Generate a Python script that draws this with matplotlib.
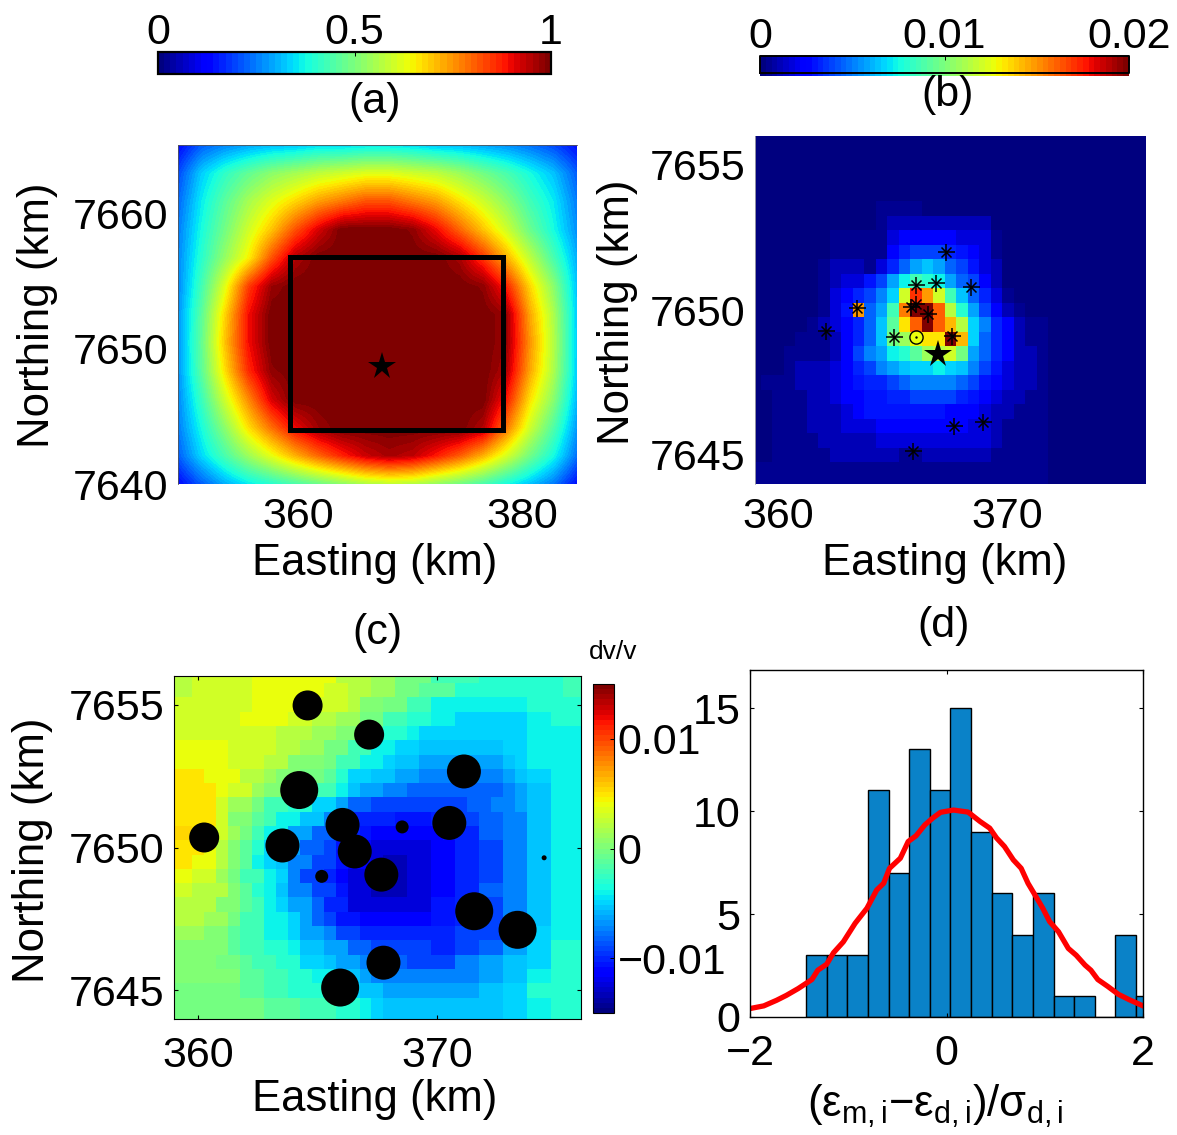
import matplotlib
matplotlib.use("Agg")
import matplotlib.pyplot as plt
import numpy as np

plt.rcParams["font.family"] = ["Liberation Sans", "DejaVu Sans"]
plt.rcParams["mathtext.fontset"] = "custom"
plt.rcParams["mathtext.rm"] = "Liberation Sans"
plt.rcParams["mathtext.it"] = "Liberation Sans"

W, H = 1177, 1135
FS = 31

# (a) probability, percent of colour range, samples every ~2 km from edge to edge, top row first
a_pct = [
    [13, 22, 26, 29, 31, 32, 34, 34, 35, 35, 34, 32, 31, 29, 27, 24, 20, 14],
    [20, 33, 41, 47, 52, 55, 58, 60, 62, 62, 60, 58, 54, 49, 44, 38, 32, 22],
    [23, 36, 46, 55, 62, 68, 74, 78, 82, 82, 78, 74, 67, 60, 52, 43, 36, 25],
    [25, 38, 49, 60, 70, 82, 92, 100, 100, 100, 98, 90, 80, 70, 60, 48, 38, 27],
    [26, 40, 53, 65, 82, 95, 100, 100, 100, 100, 100, 100, 96, 85, 72, 58, 44, 30],
    [26, 43, 62, 84, 97, 100, 100, 100, 100, 100, 100, 100, 100, 98, 87, 68, 52, 32],
    [27, 46, 68, 89, 100, 100, 100, 100, 100, 100, 100, 100, 100, 100, 97, 73, 56, 33],
    [27, 47, 70, 89, 100, 100, 100, 100, 100, 100, 100, 100, 100, 100, 97, 75, 57, 33],
    [27, 46, 67, 86, 98, 100, 100, 100, 100, 100, 100, 100, 100, 100, 95, 73, 56, 33],
    [26, 42, 60, 76, 92, 100, 100, 100, 100, 100, 100, 100, 100, 100, 88, 67, 52, 31],
    [25, 38, 52, 67, 79, 90, 97, 100, 100, 100, 100, 100, 100, 95, 78, 60, 45, 28],
    [22, 34, 44, 54, 63, 72, 80, 87, 93, 96, 94, 88, 81, 72, 61, 49, 38, 24],
    [13, 22, 30, 36, 40, 44, 48, 52, 56, 58, 57, 53, 49, 44, 38, 32, 25, 14],
]
a_rect_x = [359.3, 378.3, 378.3, 359.3, 359.3]
a_rect_y = [7644.0, 7644.0, 7656.8, 7656.8, 7644.0]
a_star = (367.5, 7648.7)

# (b) colour level 0..35 on a 0.5 km grid, top row first, rows padded with 0
b_levels = [
    [],
    [],
    [],
    [],
    [],
    [0, 0, 0, 0, 0, 0, 0, 0, 0, 0, 0, 1, 1, 1, 1],
    [0, 0, 0, 0, 0, 0, 0, 0, 0, 0, 0, 1, 2, 2, 2, 2, 2, 2, 2, 2, 2],
    [0, 0, 0, 0, 0, 0, 0, 1, 1, 1, 1, 1, 3, 4, 4, 4, 4, 4, 3, 3, 3, 1],
    [0, 0, 0, 0, 0, 0, 0, 1, 1, 1, 1, 1, 4, 6, 7, 7, 7, 6, 5, 4, 3, 1],
    [0, 0, 0, 0, 0, 0, 1, 2, 2, 2, 1, 3, 6, 8, 10, 11, 10, 8, 7, 5, 3, 2],
    [0, 0, 0, 0, 0, 0, 1, 2, 3, 3, 5, 7, 10, 13, 15, 14, 13, 10, 8, 7, 4, 2],
    [0, 0, 0, 0, 0, 0, 1, 3, 4, 6, 7, 9, 12, 21, 30, 26, 21, 15, 11, 8, 6, 3, 1],
    [0, 0, 0, 0, 0, 0, 1, 3, 5, 26, 8, 10, 15, 27, 35, 35, 28, 20, 14, 10, 7, 4, 2, 1],
    [0, 0, 0, 0, 0, 1, 2, 3, 4, 6, 8, 11, 16, 23, 28, 35, 28, 25, 20, 12, 9, 6, 4, 2, 1, 1],
    [0, 0, 0, 0, 1, 1, 1, 2, 4, 6, 8, 11, 17, 19, 22, 23, 23, 35, 25, 12, 8, 6, 4, 2, 1, 1],
    [0, 0, 0, 1, 1, 1, 1, 2, 4, 7, 9, 10, 13, 14, 16, 19, 20, 21, 17, 10, 8, 6, 4, 2, 2, 1],
    [0, 0, 0, 1, 2, 2, 2, 3, 4, 6, 7, 9, 10, 11, 12, 12, 13, 12, 11, 9, 7, 5, 3, 2, 2, 1],
    [0, 1, 1, 1, 2, 2, 2, 3, 4, 5, 6, 6, 7, 8, 9, 9, 9, 9, 8, 7, 5, 4, 3, 2, 2, 1],
    [0, 0, 1, 1, 1, 2, 2, 3, 4, 4, 5, 5, 6, 6, 7, 7, 7, 7, 6, 5, 4, 3, 2, 2, 1, 1],
    [0, 0, 1, 1, 1, 2, 2, 2, 3, 4, 5, 5, 5, 5, 5, 5, 5, 4, 4, 4, 3, 2, 2, 1, 1, 1],
    [0, 0, 1, 1, 1, 2, 2, 2, 3, 3, 3, 4, 4, 4, 4, 4, 4, 4, 4, 3, 3, 2, 1, 1, 1, 1],
    [0, 0, 1, 1, 1, 1, 2, 2, 2, 2, 2, 3, 3, 3, 3, 3, 3, 3, 3, 3, 3, 2, 1, 1, 1, 1],
    [0, 0, 1, 1, 1, 1, 1, 2, 2, 2, 2, 2, 2, 1, 1, 2, 2, 2, 2, 2, 2, 1, 1, 1, 1, 1],
    [1, 1, 1, 1, 1, 1, 1, 1, 1, 1, 1, 1, 1, 1, 1, 1, 1, 1, 1, 1, 1, 1, 1, 1, 1, 1],
    [1, 1, 1, 1, 1, 1, 1, 1, 1, 1, 1, 1, 1, 1, 1, 1, 1, 1, 1, 1, 1, 1, 1, 1, 1, 1],
]
b_evt_x = [367.34, 366.0, 366.89, 368.42, 363.45, 366.0, 365.8, 366.52, 362.09, 365.06, 367.6, 367.69, 368.96, 365.89]
b_evt_y = [7651.99, 7650.85, 7650.92, 7650.78, 7650.06, 7650.21, 7650.09, 7649.86, 7649.28, 7649.07, 7649.11, 7646.01, 7646.14, 7645.15]
b_circle = (366.0, 7649.07)
b_star = (366.96, 7648.48)

# (c) colour level 0..35 on a 0.5 km grid, top row first
c_levels = [
    [20, 20, 21, 21, 21, 21, 21, 22, 22, 22, 22, 22, 22, 22, 20, 20, 20, 19, 19, 17, 17, 17, 15, 15, 15, 15, 14, 14, 14, 14, 14, 14, 14, 15, 15],
    [20, 20, 21, 21, 21, 21, 21, 22, 22, 22, 22, 22, 22, 21, 21, 20, 20, 19, 19, 17, 17, 16, 16, 16, 14, 14, 14, 14, 14, 14, 14, 14, 14, 15, 15],
    [21, 21, 21, 21, 21, 21, 21, 22, 22, 22, 22, 22, 21, 21, 21, 20, 18, 18, 17, 17, 15, 15, 13, 13, 13, 13, 13, 13, 13, 13, 14, 14, 14, 14, 14],
    [21, 21, 21, 21, 21, 21, 22, 22, 22, 22, 21, 21, 20, 20, 19, 19, 17, 17, 15, 15, 14, 14, 13, 13, 12, 12, 12, 12, 12, 12, 13, 13, 14, 14, 14],
    [21, 21, 21, 21, 21, 21, 21, 21, 21, 20, 20, 20, 19, 19, 18, 18, 16, 16, 14, 14, 13, 12, 12, 12, 12, 12, 12, 12, 12, 12, 13, 13, 13, 13, 13],
    [22, 22, 22, 22, 22, 21, 21, 21, 21, 20, 20, 19, 19, 17, 17, 15, 15, 13, 13, 12, 12, 11, 11, 11, 11, 11, 11, 11, 12, 12, 13, 13, 13, 13, 13],
    [22, 22, 22, 22, 22, 21, 21, 21, 20, 20, 18, 18, 18, 17, 15, 15, 13, 13, 12, 11, 11, 10, 10, 10, 10, 10, 10, 10, 11, 12, 13, 13, 13, 13, 13],
    [23, 23, 23, 22, 22, 22, 20, 20, 19, 18, 18, 17, 17, 16, 14, 12, 12, 11, 11, 10, 10, 9, 9, 9, 9, 9, 9, 9, 10, 11, 12, 12, 13, 13, 13],
    [23, 23, 23, 23, 22, 21, 21, 19, 18, 18, 16, 16, 15, 15, 13, 11, 10, 10, 9, 9, 8, 8, 8, 8, 8, 8, 8, 8, 9, 10, 11, 11, 13, 13, 13],
    [23, 23, 23, 23, 21, 19, 19, 17, 15, 15, 14, 14, 12, 12, 10, 8, 8, 7, 7, 7, 7, 7, 7, 7, 7, 8, 8, 9, 9, 10, 11, 11, 13, 13, 13],
    [23, 23, 23, 23, 21, 18, 18, 16, 15, 13, 13, 11, 11, 9, 9, 6, 6, 6, 6, 5, 5, 5, 6, 6, 7, 7, 8, 8, 9, 9, 11, 11, 13, 13, 13],
    [24, 24, 23, 22, 21, 19, 17, 15, 13, 13, 10, 10, 8, 8, 6, 6, 5, 4, 4, 4, 4, 4, 4, 5, 6, 6, 8, 8, 9, 9, 11, 11, 13, 13, 13],
    [23, 23, 23, 22, 20, 18, 16, 14, 12, 10, 10, 8, 8, 7, 5, 4, 4, 3, 3, 3, 3, 3, 4, 4, 6, 6, 7, 7, 9, 9, 11, 11, 13, 13, 13],
    [23, 23, 22, 22, 20, 18, 16, 13, 12, 11, 9, 9, 7, 7, 5, 4, 4, 3, 2, 2, 3, 3, 4, 4, 6, 6, 7, 7, 9, 9, 11, 11, 13, 13, 13],
    [22, 22, 21, 21, 19, 17, 15, 15, 13, 12, 9, 7, 7, 6, 4, 3, 3, 2, 2, 2, 3, 3, 4, 4, 6, 6, 7, 7, 9, 9, 11, 11, 13, 13, 13],
    [21, 21, 20, 20, 20, 18, 16, 14, 13, 11, 9, 9, 7, 7, 5, 3, 3, 2, 2, 2, 3, 3, 4, 4, 6, 6, 8, 8, 9, 9, 11, 11, 13, 13, 13],
    [20, 20, 20, 20, 18, 18, 16, 15, 13, 12, 10, 10, 8, 6, 6, 3, 3, 3, 3, 3, 3, 3, 5, 5, 6, 6, 7, 7, 9, 9, 11, 11, 13, 13, 13],
    [20, 20, 20, 19, 19, 17, 15, 15, 13, 13, 12, 10, 8, 7, 5, 5, 4, 4, 4, 4, 4, 4, 5, 5, 6, 6, 7, 7, 9, 9, 11, 11, 13, 13, 13],
    [19, 19, 19, 18, 18, 16, 15, 15, 13, 13, 12, 10, 10, 9, 7, 7, 6, 6, 6, 6, 6, 6, 6, 6, 7, 7, 7, 7, 10, 10, 12, 12, 13, 13, 13],
    [18, 18, 18, 18, 18, 16, 15, 15, 14, 14, 13, 11, 11, 10, 10, 8, 8, 7, 7, 7, 7, 7, 6, 6, 7, 7, 8, 8, 10, 10, 12, 12, 14, 14, 14],
    [18, 18, 18, 18, 17, 17, 16, 15, 15, 14, 14, 12, 12, 11, 10, 10, 9, 8, 8, 8, 7, 7, 7, 7, 9, 9, 10, 10, 11, 11, 12, 12, 14, 14, 14],
    [18, 18, 18, 18, 18, 18, 16, 16, 15, 15, 14, 14, 13, 13, 11, 11, 10, 9, 9, 9, 9, 9, 9, 9, 9, 9, 10, 10, 11, 11, 13, 13, 14, 14, 14],
    [17, 17, 17, 17, 17, 17, 16, 16, 15, 15, 14, 14, 14, 13, 12, 12, 11, 11, 10, 10, 10, 10, 10, 10, 10, 10, 11, 11, 12, 12, 14, 14, 14, 14, 14],
    [17, 17, 17, 17, 17, 17, 17, 17, 16, 16, 16, 15, 15, 15, 14, 14, 13, 12, 11, 11, 11, 11, 11, 11, 11, 11, 11, 11, 12, 12, 13, 13, 14, 14, 14],
    [17, 17, 17, 17, 17, 17, 17, 17, 16, 16, 16, 15, 15, 15, 14, 14, 13, 12, 11, 11, 11, 11, 11, 11, 11, 11, 11, 11, 12, 12, 13, 13, 14, 14, 14],
]
c_x = [364.58, 367.15, 371.11, 364.23, 366.04, 368.53, 370.5, 360.26, 363.53, 366.55, 374.46, 365.17, 367.66, 371.54, 373.35, 367.75, 365.94]
c_y = [7654.97, 7653.95, 7652.66, 7652.01, 7650.79, 7650.72, 7650.86, 7650.35, 7650.07, 7649.86, 7649.64, 7648.99, 7649.05, 7647.77, 7647.12, 7645.97, 7645.1]
c_diam_px = [30, 30, 34, 38, 34, 13, 34, 30, 34, 34, 5, 13, 34, 38, 38, 34, 38]

# (d) histogram and fitted curve
d_centers = [-1.325, -1.115, -0.905, -0.695, -0.485, -0.275, -0.065, 0.145, 0.355, 0.565, 0.775, 0.985, 1.195, 1.405, 1.615, 1.825, 2.035]
d_counts = [3, 3, 3, 11, 7, 13, 11, 15, 9, 6, 4, 6, 1, 1, 0, 4, 1]
d_width = 0.2105
curve_x = [-2, -1.86, -1.73, -1.63, -1.51, -1.37, -1.31, -1.22, -1.15, -1.05, -0.93, -0.81, -0.71, -0.64, -0.58, -0.47, -0.39, -0.31, -0.22, -0.14, -0.06, 0.07, 0.22, 0.34, 0.44, 0.51, 0.59, 0.68, 0.76, 0.83, 0.9, 0.98, 1.05, 1.14, 1.24, 1.32, 1.41, 1.47, 1.54, 1.64, 1.75, 1.86, 2.0]
curve_y = [0.41, 0.54, 0.81, 1.05, 1.38, 1.82, 2.27, 2.56, 3.12, 3.65, 4.55, 5.28, 6.17, 6.49, 7.22, 7.71, 8.52, 8.8, 9.33, 9.66, 9.94, 10.05, 9.95, 9.5, 9.17, 8.69, 8.28, 7.63, 7.22, 6.49, 5.93, 5.28, 4.63, 4.14, 3.33, 3.0, 2.52, 2.27, 1.82, 1.49, 1.1, 0.84, 0.54]


def px_axes(x0, y0, x1, y1):
    # pixel box, y measured from the top of the image
    return fig.add_axes([x0 / W, 1 - y1 / H, (x1 - x0) / W, (y1 - y0) / H])


def label_at(ax, xlabel, ylabel, xpos, ypos):
    # xpos/ypos are pixel positions of the label centres
    ax.set_xlabel(xlabel, fontsize=31.4)
    ax.set_ylabel(ylabel, fontsize=31.5)
    ax.xaxis.set_label_coords(xpos[0] / W, 1 - xpos[1] / H, transform=fig.transFigure)
    ax.yaxis.set_label_coords(ypos[0] / W, 1 - ypos[1] / H, transform=fig.transFigure)
    ax.xaxis.label.set_va("center")
    ax.yaxis.label.set_va("center")


def map_style(ax, xlim, ylim, xticks, yticks, xpad=9.5):
    ax.set_xlim(xlim)
    ax.set_ylim(ylim)
    ax.set_xticks(xticks)
    ax.set_yticks(yticks)
    ax.tick_params(direction="in", length=3, width=0.8, labelsize=FS, pad=7)
    ax.tick_params(axis="x", pad=xpad)


fig = plt.figure(figsize=(W / 100, H / 100), dpi=100)
jet = plt.get_cmap("jet", 64)

# panel a
ax_a = px_axes(178, 145, 577, 484)
a_vals = np.array(a_pct) / 100.0
dx = (384.9 - 349.3) / 17
dy = (7665.1 - 7640) / 12
im_a = ax_a.imshow(a_vals, cmap=jet, vmin=0, vmax=1, aspect="auto", interpolation="bilinear",
                   interpolation_stage="data",
                   extent=(349.3 - dx / 2, 384.9 + dx / 2, 7640 - dy / 2, 7665.1 + dy / 2))
ax_a.plot(a_rect_x, a_rect_y, color="k", lw=3.6, solid_joinstyle="miter")
ax_a.plot(*a_star, marker="*", color="k", ms=20.5, mew=0)
map_style(ax_a, (349.3, 384.9), (7640, 7665.1), [360, 380], [7640, 7650, 7660])
ax_a.tick_params(length=0)
for s in ["right", "bottom"]:
    ax_a.spines[s].set_visible(False)
for s in ["left", "top"]:
    ax_a.spines[s].set_linewidth(0.6)
    ax_a.spines[s].set_color("#555555")
label_at(ax_a, "Easting (km)", "Northing (km)", (375, 564), (38, 315))

# panel b
ax_b = px_axes(755, 136, 1145, 484)
b_grid = np.array([r + [0] * (35 - len(r)) for r in b_levels]) / 35.0 * 0.02
ax_b.imshow(b_grid, cmap=jet, vmin=0, vmax=0.02, aspect="auto", interpolation="nearest",
            extent=(358.75, 376.25, 7643.75, 7656.25))
ax_b.scatter(b_evt_x, b_evt_y, marker="+", s=(17 * 0.72) ** 2, c="k", linewidths=1.1, zorder=3)
ax_b.scatter(b_evt_x, b_evt_y, marker="x", s=(10 * 0.72) ** 2, c="k", linewidths=1.1, zorder=3)
ax_b.plot(*b_circle, marker="o", mfc="none", mec="k", ms=9.5, mew=1.0, zorder=3)
ax_b.plot(*b_circle, marker=".", color="k", ms=1.5, zorder=3)
ax_b.plot(*b_star, marker="*", color="k", ms=20.5, mew=0, zorder=4)
map_style(ax_b, (359, 376), (7644, 7656), [360, 370], [7645, 7650, 7655])
ax_b.tick_params(length=0)
for s in ["right", "bottom", "top"]:
    ax_b.spines[s].set_visible(False)
ax_b.spines["left"].set_linewidth(0.6)
ax_b.spines["left"].set_color("#aaaaaa")
label_at(ax_b, "Easting (km)", "Northing (km)", (945, 564), (617, 312))

# panel c
ax_c = px_axes(174, 676, 581, 1019)
c_grid = -0.015 + np.array(c_levels) / 35.0 * 0.03
im_c = ax_c.imshow(c_grid, cmap=jet, vmin=-0.015, vmax=0.015, aspect="auto", interpolation="nearest",
                   extent=(358.75, 376.25, 7643.75, 7656.25))
ax_c.scatter(c_x, c_y, s=(np.array(c_diam_px) * 0.72) ** 2, c="k", linewidths=0, zorder=3)
map_style(ax_c, (359, 376), (7644, 7656), [360, 370], [7645, 7650, 7655], xpad=12)
ax_c.tick_params(top=True, right=True)
label_at(ax_c, "Easting (km)", "Northing (km)", (375, 1100), (33, 850))

# colour bars
cax_a = px_axes(158, 52, 551, 74)
sm_a = plt.cm.ScalarMappable(norm=plt.Normalize(0, 1), cmap=jet)
cb_a = fig.colorbar(sm_a, cax=cax_a, orientation="horizontal", ticks=[0, 0.5, 1])
cb_a.ax.set_xticklabels(["0", "0.5", "1"])
cax_a.xaxis.set_ticks_position("top")
cax_a.tick_params(direction="in", length=3, width=0.7, labelsize=FS, pad=-0.5)
cb_a.outline.set_linewidth(1.6)

cax_b = px_axes(760, 56, 1129, 76)
sm_b = plt.cm.ScalarMappable(norm=plt.Normalize(0, 0.02), cmap=jet)
cb_b = fig.colorbar(sm_b, cax=cax_b, orientation="horizontal", ticks=[0, 0.01, 0.02])
cb_b.ax.set_xticklabels(["0", "0.01", "0.02"])
cax_b.xaxis.set_ticks_position("top")
cax_b.tick_params(direction="in", length=3, width=0.7, labelsize=FS, pad=-0.5)
cb_b.outline.set_visible(False)
cax_b.plot([0, 0, 1, 1, 0], [0.17, 1, 1, 0.17, 0.17], transform=cax_b.transAxes, color="k", lw=1.4, clip_on=False)

cax_c = px_axes(593, 684, 614, 1013)
cb_c = fig.colorbar(im_c, cax=cax_c, ticks=[-0.01, 0, 0.01])
cb_c.ax.set_yticklabels(["\u22120.01", "0", "0.01"])
cax_c.tick_params(direction="in", length=3, width=0.7, labelsize=FS, pad=2.5)
fig.text(613 / W, 1 - 652 / H, "dv/v", fontsize=19, ha="center", va="center")

# panel d
ax_d = px_axes(750, 670, 1143, 1017)
ax_d.bar(d_centers, d_counts, width=d_width, color="#0a82c8", edgecolor="k", linewidth=1.0)
ax_d.plot(curve_x, curve_y, color="#ff0000", lw=3.8, solid_joinstyle="round")
map_style(ax_d, (-2, 2), (0, 16.85), [-2, 0, 2], [0, 5, 10, 15], xpad=12)
ax_d.set_xticklabels(["\u22122", "0", "2"])
ax_d.tick_params(top=True, right=True)
for s in ax_d.spines.values():
    s.set_linewidth(1.0)
label_at(ax_d, "($\\mathregular{\\epsilon_{m,i}}$\u2212$\\mathregular{\\epsilon_{d,i}}$)/$\\mathregular{\\sigma_{d,i}}$",
         "", (935, 1106), (700, 850))

# panel letters
for txt, xp, yp in [("(a)", 375, 102), ("(b)", 948, 95), ("(c)", 377, 633), ("(d)", 944, 626)]:
    fig.text(xp / W, 1 - yp / H, txt, fontsize=31, ha="center", va="center")

fig.savefig("out.png", dpi=100)
